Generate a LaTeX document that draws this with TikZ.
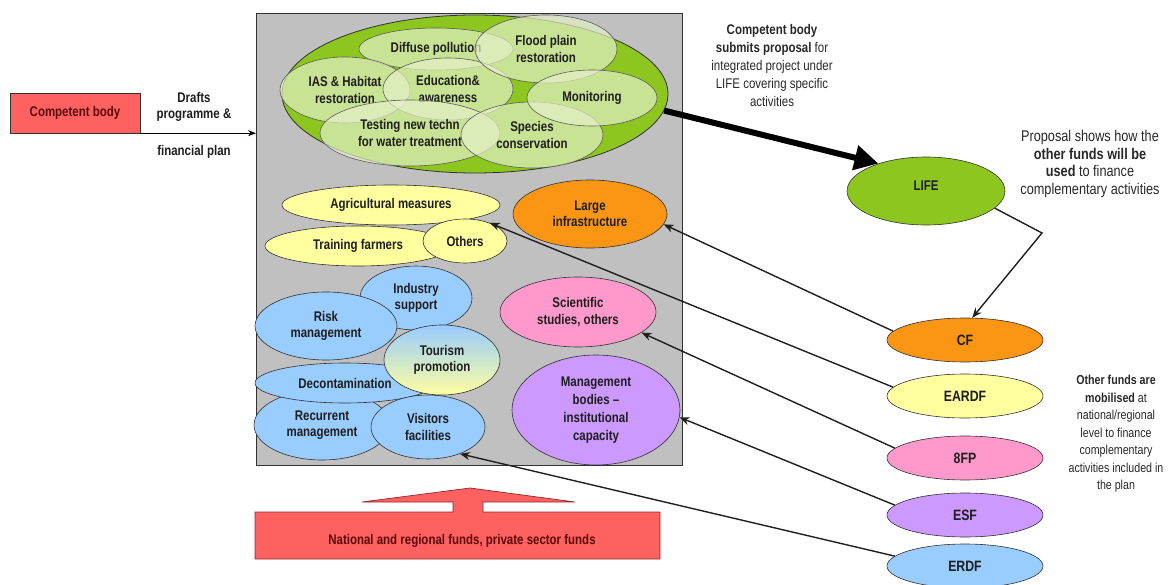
\documentclass[tikz,border=0pt]{standalone}
\usepackage{fontspec}
\setmainfont{Liberation Sans}[FakeStretch=0.82]
\usetikzlibrary{arrows.meta,shapes.geometric}
\definecolor{cgreen}{RGB}{140,198,30}
\definecolor{subfill}{RGB}{228,240,200}
\definecolor{yellowc}{RGB}{255,255,160}
\definecolor{orangec}{RGB}{250,150,20}
\definecolor{bluec}{RGB}{153,204,255}
\definecolor{pinkc}{RGB}{255,153,204}
\definecolor{violetc}{RGB}{204,153,255}
\definecolor{redc}{RGB}{255,96,96}
\definecolor{panelgray}{RGB}{192,192,192}
\definecolor{edge}{RGB}{50,50,50}
\definecolor{txt}{RGB}{30,30,30}
\definecolor{darkred}{RGB}{90,10,10}
\definecolor{note}{RGB}{40,40,40}
\begin{document}
\begin{tikzpicture}[x=1pt,y=-1pt,
  lbl/.style={font=\fontsize{14}{16.5}\selectfont\bfseries, align=center, text=txt},
  ell/.style={ellipse, draw=edge, line width=0.6pt, inner sep=0pt, lbl},
  sub/.style={ell, fill=subfill, fill opacity=0.7, text opacity=1, draw=edge!80},
  fund/.style={ell, minimum width=156, minimum height=44, font=\fontsize{15}{17}\selectfont\bfseries},
  conn/.style={line width=1.4pt, draw=black!88, -{Stealth[length=10pt,width=8pt]}},
  notetext/.style={align=center, text=note},
]
\useasboundingbox (0,0) rectangle (1174,585);

% panel
\node[draw=edge, line width=1pt, fill=panelgray, minimum width=426, minimum height=452,
      anchor=north west, inner sep=0pt] (panel) at (256,13) {};

% big green ellipse with sub-activities
\node[ellipse, draw=edge, line width=0.8pt, fill=cgreen, minimum width=386, minimum height=158, inner sep=0pt] (green) at (475,94) {};
\node[sub, minimum width=154, minimum height=42] (diff) at (436,49) {Diffuse pollution};
\node[sub, minimum width=130, minimum height=66] (ias) at (345,90) {IAS \& Habitat\\restoration};
\node[sub, minimum width=130, minimum height=62] (edu) at (448,89) {Education\&\\awareness};
\node[sub, minimum width=142, minimum height=68] (flood) at (546,49) {Flood plain\\restoration};
\node[sub, minimum width=180, minimum height=66] (test) at (410,133) {Testing new techn\\for water treatment};
\node[sub, minimum width=142, minimum height=66] (species) at (532,135) {Species\\conservation};
\node[sub, minimum width=130, minimum height=56] (monit) at (592,98) {Monitoring};

% agricultural group
\node[ell, fill=yellowc, minimum width=218, minimum height=40] (agri) at (391,205) {Agricultural measures};
\node[ell, fill=yellowc, minimum width=186, minimum height=40] (train) at (358,246) {Training farmers};
\node[ell, fill=yellowc, minimum width=84, minimum height=44] (others) at (465,241) {Others};
\node[ell, fill=orangec, minimum width=154, minimum height=68] (large) at (590,214) {Large\\infrastructure};

% blue group
\node[ell, fill=bluec, minimum width=112, minimum height=64] (industry) at (416,298) {Industry\\support};
\node[ell, fill=bluec, minimum width=142, minimum height=68] (risk) at (326,326) {Risk\\management};
\node[ell, fill=bluec, minimum width=136, minimum height=70] (recur) at (322,425) {Recurrent\\management};
\node[ell, fill=bluec, minimum width=180, minimum height=40] (decont) at (345,383) {Decontamination};
\node[ell, fill=bluec, minimum width=114, minimum height=64] (visit) at (428,427) {Visitors\\facilities};
\node[ell, top color=bluec, bottom color=yellowc, minimum width=116, minimum height=70] (tour) at (442,360) {Tourism\\promotion};

\node[ell, fill=pinkc, minimum width=156, minimum height=70] (sci) at (578,312) {Scientific\\studies, others};
\node[ell, fill=violetc, minimum width=168, minimum height=110, font=\fontsize{14}{18}\selectfont\bfseries] (mgmt) at (596,410) {Management\\bodies --\\institutional\\capacity};

% competent body
\node[draw=edge, fill=redc, minimum width=130, minimum height=40, inner sep=0pt, lbl, text=darkred] (cb) at (75,113) {Competent body};
\draw[line width=1pt, -{Stealth[length=8pt,width=6pt]}] (cb.south east) -- (cb.south east -| panel.west);
\node[lbl] (drafts) at (194,107) {Drafts\\programme \&};
\node[lbl] (finplan) at (194,152) {financial plan};

% LIFE
\node[ell, fill=cgreen, minimum width=158, minimum height=68] (life) at (926,191) {\raisebox{10pt}{LIFE}};
\draw[line width=6pt, -{Triangle[length=24pt,width=24pt]}] (green.-5) -- (life.150);

\node[notetext, font=\fontsize{14}{18}\selectfont] (t1) at (772,65)
  {\textbf{Competent body}\\\textbf{submits proposal} for\\integrated project under\\LIFE covering specific\\activities};
\node[notetext, font=\fontsize{15.5}{17.7}\selectfont] (t2) at (1090,164)
  {Proposal shows how the\\\textbf{other funds will be}\\\textbf{used} to finance\\complementary activities};
\node[notetext, font=\fontsize{13}{17.5}\selectfont] (t3) at (1116,434)
  {\textbf{Other funds are}\\\textbf{mobilised} at\\national/regional\\level to finance\\complementary\\activities included in\\the plan};

% funds
\node[fund, fill=orangec] (cf) at (965,340) {CF};
\node[fund, fill=yellowc] (eardf) at (965,396) {EARDF};
\node[fund, fill=pinkc] (fp) at (965,458) {8FP};
\node[fund, fill=violetc] (esf) at (965,515) {ESF};
\node[fund, fill=bluec] (erdf) at (965,566) {ERDF};

\coordinate (bend) at (1042,233);
\draw[conn] (life.-14) -- (bend) -- (cf.72);

\draw[conn] (cf.173) -- (large.-8);
\draw[conn] (eardf.173) -- (others.36);
\draw[conn] (fp.172) -- (sci.-18);
\draw[conn] (esf.172) -- (mgmt.-5);
\draw[conn] (erdf.172) -- (visit.-40);

% national funds arrow
\path[draw={rgb,255:red,150;green,40;blue,40}, line width=0.7pt, fill=redc]
  (255,512) -- (453,512) -- (453,502) -- (362,502) -- (470,488) -- (575,502)
  -- (483,502) -- (483,512) -- (660,512) -- (660,559) -- (255,559) -- cycle;
\node[lbl, text=darkred] (natfunds) at (462,541) {National and regional funds, private sector funds};
\end{tikzpicture}
\end{document}
